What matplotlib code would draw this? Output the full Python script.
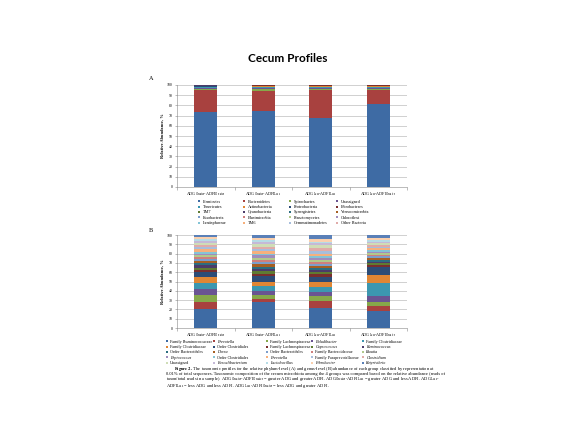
import matplotlib
matplotlib.use("Agg")
import matplotlib.pyplot as plt
from matplotlib.lines import Line2D
import numpy as np

W, H = 576, 434

# ---------------- data ----------------
groups = [
    r"ADG$_{\mathrm{Greater}}$-ADFI$_{\mathrm{Greater}}$",
    r"ADG$_{\mathrm{Greater}}$-ADFI$_{\mathrm{Less}}$",
    r"ADG$_{\mathrm{Less}}$-ADFI$_{\mathrm{Less}}$",
    r"ADG$_{\mathrm{Less}}$-ADFI$_{\mathrm{Greater}}$",
]

phyla = [
    "Firmicutes", "Bacteroidetes", "Spirochaetes", "Unassigned",
    "Tenericutes", "Actinobacteria", "Proteobacteria", "Fibrobacteres",
    "TM7", "Cyanobacteria", "Synergistetes", "Verrucomicrobia",
    "Fusobacteria", "Elusimicrobia", "Planctomycetes", "Chloroflexi",
    "Lentisphaerae", "TM6", "Gemmatimonadetes", "Other Bacteria",
]
# relative abundance (%) of each phylum, one list per group
phyla_gg = [74, 21, 1.2, 0.8, 0.8, 0.4, 0.6, 0.4, 0.2, 0.2, 0.1, 0.1,
            0.03, 0.03, 0.03, 0.03, 0.02, 0.02, 0.02, 0.02]
phyla_gl = [75, 19, 2.5, 1.0, 1.0, 0.3, 0.5, 0.3, 0.1, 0.1, 0.1, 0.05,
            0.01, 0.01, 0.01, 0.01, 0.01, 0.01, 0.01, 0.01]
phyla_ll = [68, 27, 1.0, 1.5, 1.0, 0.3, 0.6, 0.3, 0.1, 0.1, 0.05, 0.02,
            0.01, 0.01, 0.01, 0.01, 0.01, 0.01, 0.01, 0.01]
phyla_lg = [81, 14, 1.5, 1.0, 1.0, 0.5, 0.5, 0.3, 0.1, 0.05, 0.02, 0.01,
            0.01, 0.01, 0.01, 0.01, 0.01, 0.01, 0.01, 0.01]

genera = [
    "Family Ruminococcaceae", "Prevotella", "Family Lachnospiraceae", "Paludibacter", "Family Clostridiaceae",
    "Family Clostridiaceae", "Order Clostridiales", "Family Lachnospiraceae", "Coprococcus", "Ruminococcus",
    "Order Bacteroidales", "Dorea", "Order Bacteroidales", "Family Bacteroidaceae", "Blautia",
    "Peptococcus", "Order Clostridiales", "Prevotella", "Family Paraprevotellaceae", "Clostridium",
    "Unassigned", "Faecalibacterium", "Lactobacillus", "Fibrobacter", "Butyrivibrio",
]
italic_genera = {"Prevotella", "Paludibacter", "Coprococcus", "Ruminococcus", "Dorea",
                 "Blautia", "Peptococcus", "Clostridium", "Faecalibacterium",
                 "Lactobacillus", "Fibrobacter", "Butyrivibrio"}
# relative abundance (%) of each genus, one list per group
genera_gg = [20, 8, 7, 7, 6, 7, 5, 2.5, 2.5, 2.5, 2.5, 2, 2, 2, 2, 2, 2,
             2.6, 2.5, 2.4, 2.3, 2.2, 2.1, 2.0, 1.9]
genera_gl = [28, 3, 4, 5, 5, 5, 6, 2, 3, 2, 3, 2.5, 2, 2.5, 2, 3, 2,
             2.5, 2, 3, 2.5, 2, 2.5, 2, 3.5]
genera_ll = [22, 7, 5, 5, 5, 6, 5, 3, 2, 2.5, 2, 2, 2.5, 2, 2, 2.5, 2,
             2, 3, 3, 3.5, 2, 2, 2.5, 4.5]
genera_lg = [18, 6, 3.5, 7, 14, 9, 8.5, 2, 2, 1.5, 2, 1.5, 2, 1.5, 2, 1.5, 2,
             1.5, 2, 1.5, 2, 2, 2, 2, 3]

yticks = list(range(0, 101, 10))

# ---------------- styling ----------------
palette = [
    "#3E6BA4", "#A8413F", "#86A84A", "#6A5492", "#3C97B0", "#E08634",
    "#2C4C77", "#7A2E2D", "#5F7B32", "#4B3C6A", "#2B6D80", "#A65F22",
    "#7C9ECB", "#CF7F7D", "#B1C98B", "#A08DBC", "#84C4D6", "#F6B07C",
    "#A7BEDC", "#E0ABA9", "#CFDDB7", "#C5B9D7", "#B6DCE6", "#FAD0AE",
    "#5A80B8",
]
grid_c = "#BDBDBD"
serif = ["Liberation Serif", "DejaVu Serif"]
plt.rcParams["font.family"] = serif
plt.rcParams["mathtext.fontset"] = "stix"

fig = plt.figure(figsize=(W / 100, H / 100), dpi=100)
fig.patch.set_facecolor("white")


def fx(px):
    return px / W


def fy(py):
    return 1 - py / H


fig.text(fx(288), fy(58), "Cecum Profiles", ha="center", va="center",
         fontsize=8.5, fontweight="bold", family=["Lato", "DejaVu Sans"])


def stacked_panel(rect, series_by_group, colors):
    ax = fig.add_axes(rect)
    data = np.array(series_by_group).T  # rows = taxa, cols = groups
    x = np.arange(len(groups))
    bottom = np.zeros(len(groups))
    for i, row in enumerate(data):
        ax.bar(x, row, width=0.4, bottom=bottom, color=colors[i % len(colors)],
               edgecolor="none", zorder=3)
        bottom += row
    ax.set_xlim(-0.5, len(groups) - 0.5)
    ax.set_ylim(0, 100)
    ax.set_yticks(yticks)
    ax.set_yticklabels([str(t) for t in yticks])
    ax.set_xticks(x)
    ax.set_xticklabels(groups)
    ax.set_xticks(np.arange(-0.5, len(groups), 1.0), minor=True)
    ax.tick_params(axis="x", which="major", length=0, pad=2.5, labelsize=3.0)
    ax.tick_params(axis="x", which="minor", length=2.0, width=0.4, color="#888888")
    ax.tick_params(axis="y", length=1.5, width=0.4, color="#888888", pad=1.5,
                   labelsize=2.8)
    ax.yaxis.grid(True, color=grid_c, linewidth=0.5, zorder=0)
    for s in ("top", "right"):
        ax.spines[s].set_visible(False)
    for s in ("left", "bottom"):
        ax.spines[s].set_color("#888888")
        ax.spines[s].set_linewidth(0.4)
    ax.set_ylabel("Relative Abundance, %", fontsize=3.2, fontweight="bold", labelpad=2)
    return ax


axA = stacked_panel([fx(177), fy(187), fx(407) - fx(177), fy(85) - fy(187)],
                    [phyla_gg, phyla_gl, phyla_ll, phyla_lg], palette)
axB = stacked_panel([fx(177), fy(328), fx(407) - fx(177), fy(235) - fy(328)],
                    [genera_gg, genera_gl, genera_ll, genera_lg], palette)

fig.text(fx(149), fy(78), "A", fontsize=4.5, ha="left", va="center")
fig.text(fx(149), fy(231), "B", fontsize=4.5, ha="left", va="center")


def column_legends(names, ncol, col_px, row1_py, fs, italics=()):
    nrow = int(np.ceil(len(names) / ncol))
    for c in range(ncol):
        handles, labels = [], []
        for r in range(nrow):
            k = r * ncol + c
            if k >= len(names):
                continue
            handles.append(Line2D([], [], marker="s", linestyle="none",
                                  markersize=1.8, markeredgewidth=0,
                                  color=palette[k % len(palette)]))
            labels.append(names[k])
        leg = fig.legend(handles, labels, loc="upper left",
                         bbox_to_anchor=(fx(col_px[c] - 2), fy(row1_py - 2.4)),
                         frameon=False, fontsize=fs, handlelength=1.0,
                         handletextpad=0.3, labelspacing=0.33 * 3.1 / fs,
                         borderpad=0, borderaxespad=0)
        for t in leg.get_texts():
            if t.get_text() in italics:
                t.set_fontstyle("italic")


column_legends(phyla, 4, [199, 244, 290, 337], 202, 3.1)
column_legends(genera, 5, [167, 214, 267, 312, 363], 342, 2.95, italic_genera)

caption = [
    r"$\bf{Figure\ 2.}$ The taxonomic profiles for the relative phylum-level (A) and genus-level (B) abundance of each group classified by representation at",
    r"0.01% of total sequences. Taxonomic composition of the cecum microbiota among the 4 groups was compared based on the relative abundance (reads of",
    r"taxon/total reads in a sample). ADG$_{\mathrm{Greater}}$-ADFI$_{\mathrm{Greater}}$ = greater ADG and greater ADFI. ADG$_{\mathrm{Greater}}$-ADFI$_{\mathrm{Less}}$ = greater ADG and less ADFI. ADG$_{\mathrm{Less}}$-",
    r"ADFI$_{\mathrm{Less}}$ = less ADG and less ADFI. ADG$_{\mathrm{Less}}$-ADFI$_{\mathrm{Greater}}$ = less ADG and greater ADFI.",
]
cap_x = [174, 166, 166, 166]
cap_y = [369.0, 374.0, 378.8, 385.6]
for s, xx, yy in zip(caption, cap_x, cap_y):
    fig.text(fx(xx), fy(yy), s, fontsize=3.25, ha="left", va="center")

fig.savefig("out.png", dpi=100, facecolor="white")
